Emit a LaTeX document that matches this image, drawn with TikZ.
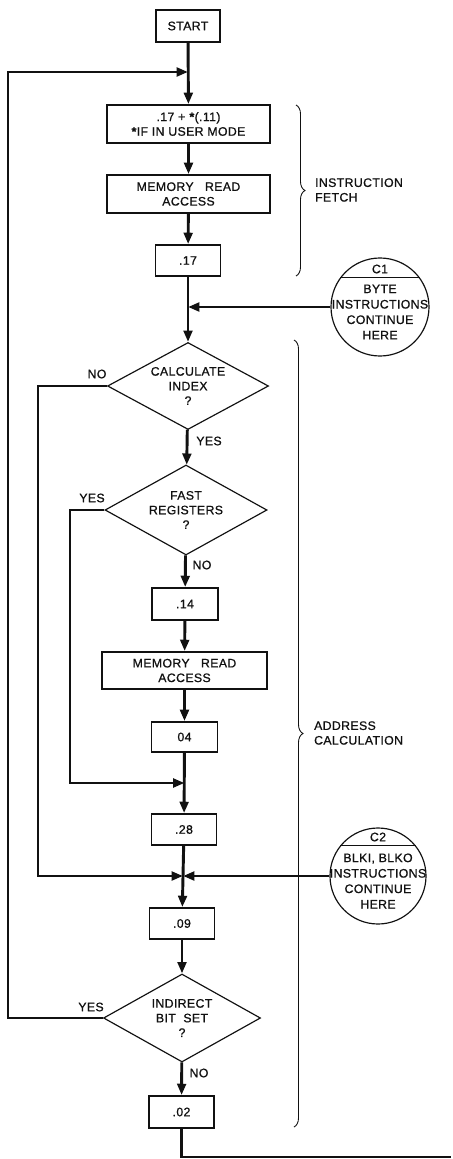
\documentclass[tikz,border=0pt]{standalone}
\usepackage{fontspec}
\setmainfont{Liberation Sans}[LetterSpace=3,FakeBold=0.8]
\usetikzlibrary{arrows.meta,shapes.geometric,decorations.pathreplacing}
\definecolor{ink}{HTML}{111111}
\definecolor{paper}{HTML}{FFFFFF}
\begin{document}
\begin{tikzpicture}[x=.03cm,y=-.03cm,every node/.style={font=\fontsize{10.5}{12.5}\selectfont,text=ink,align=center},box/.style={draw=ink,line width=1.6pt,inner sep=0pt},decision/.style={diamond,aspect=1.85,draw=ink,line width=1pt,inner sep=0pt},conn/.style={circle,draw=ink,line width=1pt,inner sep=0pt},flow/.style={ink,line width=2.5pt},into/.style={flow,-{Triangle[length=3.4mm,width=2.6mm]}},curly/.style={ink,line width=.75pt,decorate,decoration={brace,amplitude=.27cm}},ctext/.style={font=\fontsize{10.5}{13.2}\selectfont}]
\fill[paper] (0,0) rectangle (451,1159);
\node[box,minimum width=1.92cm,minimum height=.96cm] (start) at (188,26){START};\coordinate (m0) at (188,72);
\node[box,minimum width=4.89cm,minimum height=1.14cm] (fetch) at (188.5,124){.17 + \textbf{*}(.11)\\\textbf{*}IF\ IN\ USER\ MODE};
\node[box,minimum width=4.89cm,minimum height=1.14cm] (mem1) at (188.5,194){MEMORY\ \ \ READ\\ACCESS};
\node[box,minimum width=1.95cm,minimum height=.93cm] (p17) at (188,260.5){.17};\coordinate (m1) at (188,307);
\node[decision,minimum width=4.83cm,minimum height=2.61cm] (index) at (188,386){CALCULATE\\INDEX\\?};
\node[decision,minimum width=4.86cm,minimum height=2.7cm] (fast) at (186,510){FAST\\REGISTERS\\?};
\node[box,minimum width=1.98cm,minimum height=.96cm] (p14) at (185,604){.14};
\node[box,minimum width=4.95cm,minimum height=1.11cm] (mem2) at (184.5,670.5){MEMORY\ \ \ READ\\ACCESS};
\node[box,minimum width=1.98cm,minimum height=.9cm] (p04) at (184.5,737){04};\coordinate (m2) at (184.5,783);
\node[box,minimum width=1.95cm,minimum height=.93cm] (p28) at (184,829.5){.28};\coordinate (m3) at (183,876);
\node[box,minimum width=1.95cm,minimum height=.93cm] (p09) at (182,923.5){.09};
\node[decision,minimum width=4.71cm,minimum height=2.64cm] (indirect) at (182,1018){INDIRECT\\BIT\ \ SET\\?};
\node[box,minimum width=1.95cm,minimum height=.96cm] (p02) at (181.5,1112){.02};
\node[conn,minimum size=2.94cm] (c1) at (380,307){};\draw[ink,line width=1pt] (c1.36)--(c1.144);\node at (380,269){C1};\node[ctext] at (380,312){BYTE\\INSTRUCTIONS\\CONTINUE\\HERE};
\node[conn,minimum size=2.88cm] (c2) at (378,876){};\draw[ink,line width=1pt] (c2.39)--(c2.141);\node at (378,837){C2};\node[ctext] at (378,881){BLKI,\ BLKO\\INSTRUCTIONS\\CONTINUE\\HERE};
\draw[into] (start)--(fetch);\draw[into] (fetch)--(mem1);\draw[into] (mem1)--(p17);\draw[into] (p17)--(index);\draw[into] (c1.west)--(m1);
\draw[into] (index)--(fast);\draw[into] (fast)--(p14);\draw[into] (p14)--(mem2);\draw[into] (mem2)--(p04);\draw[into] (p04)--(p28);
\draw[into] (p28)--(p09);\draw[into] (c2.west)--(m3);\draw[into] (p09)--(indirect);\draw[into] (indirect)--(p02);\draw[flow] (p02.south)|-(451,1157);
\draw[into] (index.west)-|(38,876)--(m3);\draw[into] (fast.west)-|(70,783)--(m2);\draw[into] (indirect.west)-|(8,72)--(m0);
\node at (97,374){NO};\node at (209,441){YES};\node at (92,498){YES};\node at (202,565){NO};\node at (91,1007){YES};\node at (199,1073){NO};
\draw[curly] (296,105)--(296,276);\node[anchor=west,align=left] at (311,190){INSTRUCTION\\FETCH};
\draw[curly] (294,340)--(294,1127);\node[anchor=west,align=left] at (310,733){ADDRESS\\CALCULATION};
\end{tikzpicture}
\end{document}
